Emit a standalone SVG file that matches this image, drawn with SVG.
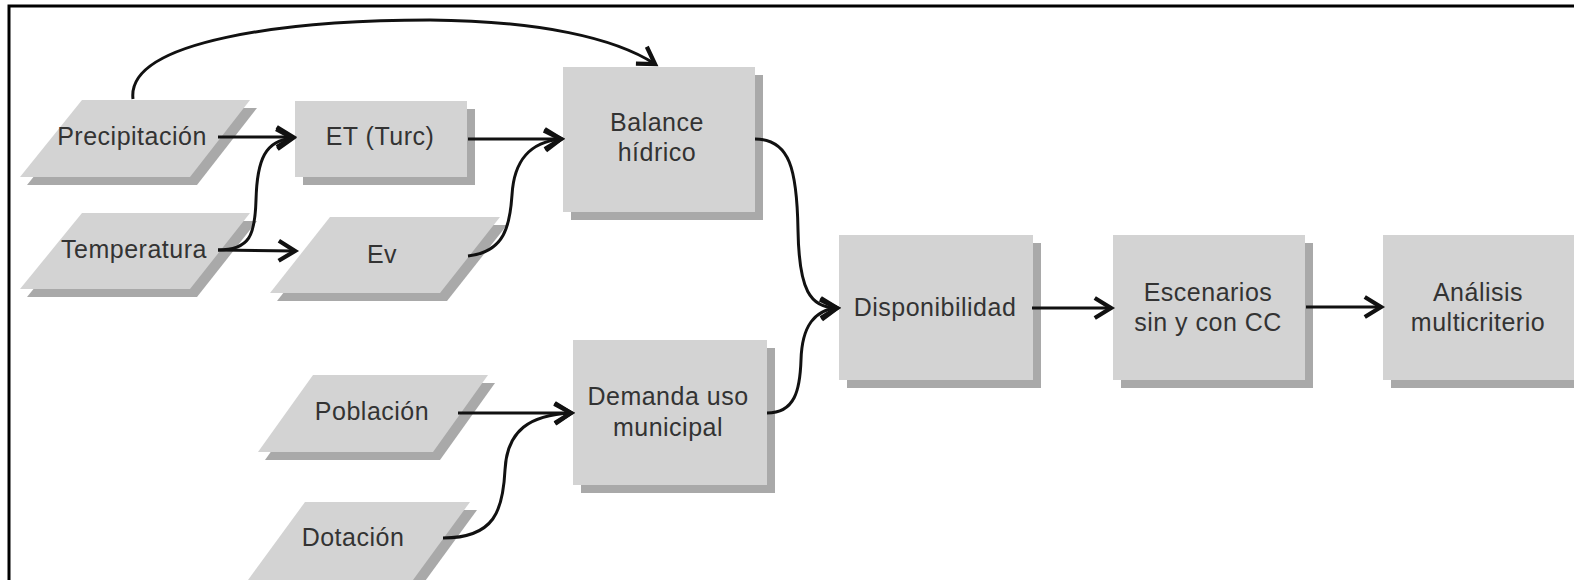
<svg xmlns="http://www.w3.org/2000/svg" width="1574" height="580" viewBox="0 0 1574 580">
<defs>
<marker id="arr" markerUnits="userSpaceOnUse" markerWidth="30" markerHeight="30" viewBox="-16 -12 20 24" refX="0" refY="0" orient="auto">
<path d="M-13,-8 L0,0 L-13,8" fill="none" stroke="#111" stroke-width="3.4" stroke-linejoin="miter"/>
</marker>
</defs>
<style>
.box{fill:#d3d3d3}
.sh{fill:#a9a9a9}
.t{font-family:"Liberation Sans",Arial,sans-serif;font-size:25px;fill:#333;text-anchor:middle;letter-spacing:0.5px}
.c{fill:none;stroke:#111;stroke-width:3;marker-end:url(#arr)}
</style>
<rect width="1574" height="580" fill="#fff"/>
<path d="M9,580 V6 H1574" fill="none" stroke="#000" stroke-width="3"/>

<g id="precipitacion">
<polygon class="sh" points="89,108 257,108 197,185 27,185"/>
<polygon class="box" points="82,100 250,100 190,177 20,177"/>
<text class="t" x="132" y="145">Precipitación</text>
</g>
<g id="temperatura">
<polygon class="sh" points="89,221 257,221 197,297 27,297"/>
<polygon class="box" points="82,213 250,213 190,289 20,289"/>
<text class="t" x="134" y="258">Temperatura</text>
</g>
<g id="et">
<rect class="sh" x="303" y="109" width="172" height="76"/>
<rect class="box" x="295" y="101" width="172" height="76"/>
<text class="t" x="380" y="145">ET (Turc)</text>
</g>
<g id="ev">
<polygon class="sh" points="337,225 507,225 447,301 277,301"/>
<polygon class="box" points="330,217 500,217 440,293 270,293"/>
<text class="t" x="382" y="263">Ev</text>
</g>
<g id="balance">
<rect class="sh" x="571" y="75" width="192" height="145"/>
<rect class="box" x="563" y="67" width="192" height="145"/>
<text class="t" x="657" y="131">Balance</text>
<text class="t" x="657" y="161">hídrico</text>
</g>
<g id="poblacion">
<polygon class="sh" points="320,383 495,383 440,460 265,460"/>
<polygon class="box" points="313,375 488,375 433,452 258,452"/>
<text class="t" x="372" y="420">Población</text>
</g>
<g id="dotacion">
<polygon class="sh" points="312,510 477,510 420,588 255,588"/>
<polygon class="box" points="305,502 470,502 413,580 248,580"/>
<text class="t" x="353" y="546">Dotación</text>
</g>
<g id="demanda">
<rect class="sh" x="581" y="348" width="194" height="145"/>
<rect class="box" x="573" y="340" width="194" height="145"/>
<text class="t" x="668" y="405">Demanda uso</text>
<text class="t" x="668" y="436">municipal</text>
</g>
<g id="disponibilidad">
<rect class="sh" x="847" y="243" width="194" height="145"/>
<rect class="box" x="839" y="235" width="194" height="145"/>
<text class="t" x="935" y="316">Disponibilidad</text>
</g>
<g id="escenarios">
<rect class="sh" x="1121" y="243" width="192" height="145"/>
<rect class="box" x="1113" y="235" width="192" height="145"/>
<text class="t" x="1208" y="301">Escenarios</text>
<text class="t" x="1208" y="331">sin y con CC</text>
</g>
<g id="analisis">
<rect class="sh" x="1391" y="243" width="192" height="145"/>
<rect class="box" x="1383" y="235" width="192" height="145"/>
<text class="t" x="1478" y="301">Análisis</text>
<text class="t" x="1478" y="331">multicriterio</text>
</g>

<g id="connectors">
<path class="c" d="M133,99 C126,40 290,20 430,20 C540,21 615,38 655,64"/>
<path class="c" d="M218,137 L293,137"/>
<path class="c" d="M218,250 C250,250 255,235 256,200 C257,160 265,140 293,138"/>
<path class="c" d="M218,250 L295,251"/>
<path class="c" d="M468,139 L561,139"/>
<path class="c" d="M468,256 C505,252 510,225 512,195 C514,160 530,142 561,139"/>
<path class="c" d="M755,139 C790,139 797,170 798,230 C799,290 810,308 837,308"/>
<path class="c" d="M767,413 C795,413 800,390 801,360 C802,325 815,310 837,308"/>
<path class="c" d="M458,413 L571,413"/>
<path class="c" d="M443,538 C495,538 503,510 505,470 C507,430 530,415 571,413"/>
<path class="c" d="M1032,308 L1111,308"/>
<path class="c" d="M1306,307 L1381,307"/>
</g>
</svg>
